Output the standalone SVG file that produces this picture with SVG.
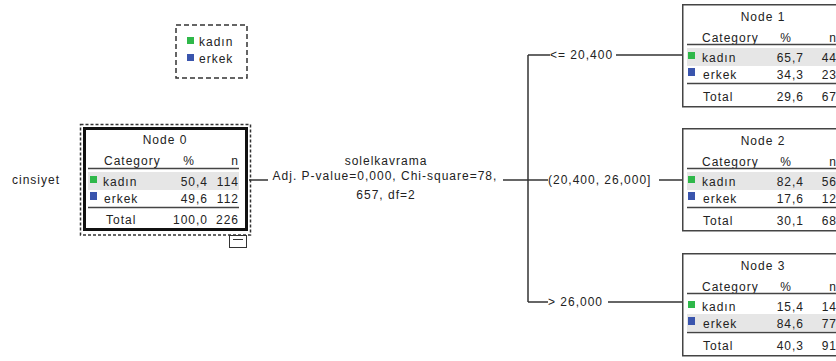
<svg xmlns="http://www.w3.org/2000/svg" width="836" height="361" viewBox="0 0 836 361">
<style>
text{font-family:"Liberation Sans",Arial,sans-serif;font-size:12px;fill:#222;letter-spacing:1px}
.m{text-anchor:middle}
.e{text-anchor:end}
.box{fill:#fff;stroke:#444;stroke-width:1.5}
.hl{fill:#e6e6e6}
.sep{stroke:#444;stroke-width:1.5}
.g{fill:#2fb84a}
.b{fill:#3a55ad}
.con{stroke:#333;stroke-width:1.5;fill:none}
</style>
<rect width="836" height="361" fill="#fff"/>

<g id="legend">
<rect x="176" y="25" width="71" height="53" fill="none" stroke="#333" stroke-width="1.5" stroke-dasharray="5 3"/>
<rect class="g" x="187" y="37" width="7" height="7"/>
<text x="199" y="46">kadın</text>
<rect class="b" x="187" y="54" width="7" height="7"/>
<text x="199" y="63">erkek</text>
</g>

<g id="node0">
<text x="12" y="184">cinsiyet</text>
<rect x="80.5" y="124.5" width="170" height="110.5" fill="none" stroke="#333" stroke-width="1.5" stroke-dasharray="3 2"/>
<g transform="translate(83,127)">
<rect x="1.5" y="1.5" width="162" height="101" fill="#fff" stroke="#111" stroke-width="3"/>
<text class="m" x="82" y="17">Node 0</text>
<text x="21" y="38">Category</text><text class="m" x="106" y="38">%</text><text class="e" x="156" y="38">n</text>
<line class="sep" x1="5" y1="41.5" x2="156" y2="41.5"/>
<rect class="hl" x="5" y="45" width="151" height="18"/>
<rect class="g" x="7" y="49" width="7" height="7"/><text x="20" y="59">kadın</text><text class="e" x="125" y="59">50,4</text><text class="e" x="156" y="59">114</text>
<rect class="b" x="7" y="65" width="7" height="8"/><text x="21" y="76">erkek</text><text class="e" x="125" y="76">49,6</text><text class="e" x="156" y="76">112</text>
<line class="sep" x1="5" y1="80.5" x2="156" y2="80.5"/>
<text x="23" y="97">Total</text><text class="e" x="125" y="97">100,0</text><text class="e" x="156" y="97">226</text>
</g>
<rect x="229.5" y="235.5" width="17" height="12" fill="#fff" stroke="#333" stroke-width="1"/>
<line x1="233" y1="239.5" x2="243" y2="239.5" stroke="#333" stroke-width="1"/>
</g>

<g id="connectors">
<polyline class="con" points="249,180 268,180"/>
<polyline class="con" points="503,180 548,180"/>
<line class="con" x1="528" y1="55" x2="528" y2="302"/>
<polyline class="con" points="528,55 550,55"/>
<polyline class="con" points="616,55 682,55"/>
<polyline class="con" points="659,180 682,180"/>
<polyline class="con" points="528,302 548,302"/>
<polyline class="con" points="608,302 682,302"/>
<text class="m" x="386" y="165">solelkavrama</text>
<text class="m" x="385" y="180">Adj. P-value=0,000, Chi-square=78,</text>
<text class="m" x="386" y="199">657, df=2</text>
<text x="550" y="59">&lt;= 20,400</text>
<text x="548" y="184">(20,400, 26,000]</text>
<text x="548" y="306">&gt; 26,000</text>
</g>

<g id="node1" transform="translate(682,4)">
<rect class="box" x="0.75" y="0.75" width="164" height="102"/>
<text class="m" x="81" y="17">Node 1</text>
<text x="20" y="38">Category</text><text class="m" x="104" y="38">%</text><text class="e" x="155" y="38">n</text>
<line class="sep" x1="5" y1="40.5" x2="160" y2="40.5"/>
<rect class="hl" x="5" y="44" width="160" height="18"/>
<rect class="g" x="6" y="48" width="7" height="7"/><text x="20" y="58">kadın</text><text class="e" x="122" y="58">65,7</text><text class="e" x="155" y="58">44</text>
<rect class="b" x="6" y="64" width="7" height="8"/><text x="21" y="75">erkek</text><text class="e" x="122" y="75">34,3</text><text class="e" x="155" y="75">23</text>
<line class="sep" x1="5" y1="79.5" x2="160" y2="79.5"/>
<text x="21" y="97">Total</text><text class="e" x="122" y="97">29,6</text><text class="e" x="155" y="97">67</text>
</g>

<g id="node2" transform="translate(682,128)">
<rect class="box" x="0.75" y="0.75" width="164" height="102"/>
<text class="m" x="81" y="17">Node 2</text>
<text x="20" y="38">Category</text><text class="m" x="104" y="38">%</text><text class="e" x="155" y="38">n</text>
<line class="sep" x1="5" y1="40.5" x2="160" y2="40.5"/>
<rect class="hl" x="5" y="44" width="160" height="18"/>
<rect class="g" x="6" y="48" width="7" height="7"/><text x="20" y="58">kadın</text><text class="e" x="122" y="58">82,4</text><text class="e" x="155" y="58">56</text>
<rect class="b" x="6" y="64" width="7" height="8"/><text x="21" y="75">erkek</text><text class="e" x="122" y="75">17,6</text><text class="e" x="155" y="75">12</text>
<line class="sep" x1="5" y1="79.5" x2="160" y2="79.5"/>
<text x="21" y="97">Total</text><text class="e" x="122" y="97">30,1</text><text class="e" x="155" y="97">68</text>
</g>

<g id="node3" transform="translate(682,253)">
<rect class="box" x="0.75" y="0.75" width="164" height="102"/>
<text class="m" x="81" y="17">Node 3</text>
<text x="20" y="38">Category</text><text class="m" x="104" y="38">%</text><text class="e" x="155" y="38">n</text>
<line class="sep" x1="5" y1="40.5" x2="160" y2="40.5"/>
<rect class="hl" x="5" y="61" width="160" height="17"/>
<rect class="g" x="6" y="48" width="7" height="7"/><text x="20" y="58">kadın</text><text class="e" x="122" y="58">15,4</text><text class="e" x="155" y="58">14</text>
<rect class="b" x="6" y="64" width="7" height="8"/><text x="21" y="75">erkek</text><text class="e" x="122" y="75">84,6</text><text class="e" x="155" y="75">77</text>
<line class="sep" x1="5" y1="79.5" x2="160" y2="79.5"/>
<text x="21" y="97">Total</text><text class="e" x="122" y="97">40,3</text><text class="e" x="155" y="97">91</text>
</g>
</svg>
